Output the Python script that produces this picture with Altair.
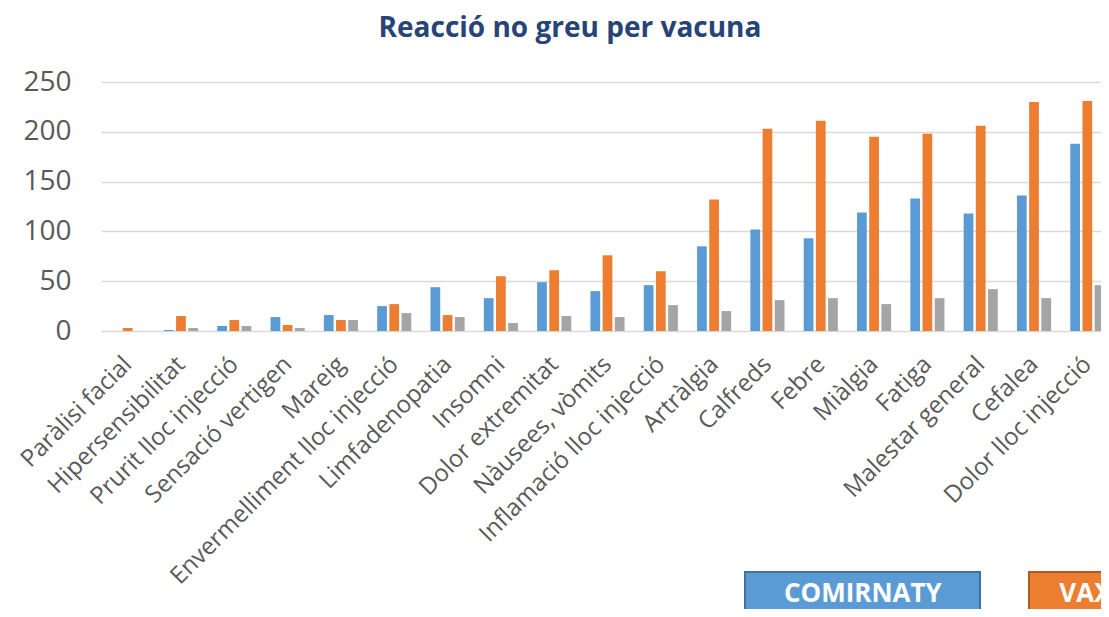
import altair as alt
import pandas as pd

categories = [
    "Paràlisi facial", "Hipersensibilitat", "Prurit lloc injecció", "Sensació vertigen",
    "Mareig", "Envermelliment lloc injecció", "Limfadenopatia", "Insomni",
    "Dolor extremitat", "Nàusees, vòmits", "Inflamació lloc injecció", "Artràlgia",
    "Calfreds", "Febre", "Miàlgia", "Fatiga", "Malestar general", "Cefalea",
    "Dolor lloc injecció",
]
series_names = ["COMIRNATY", "VAXZEVRIA", "SPIKEVAX"]
comirnaty = [0, 1, 5, 14, 16, 25, 44, 33, 49, 40, 46, 85, 102, 93, 119, 133, 118, 136, 188]
vaxzevria = [3, 15, 11, 6, 11, 27, 16, 55, 61, 76, 60, 132, 203, 211, 195, 198, 206, 230, 231]
spikevax = [0, 3, 5, 3, 11, 18, 14, 8, 15, 14, 26, 20, 31, 33, 27, 33, 42, 33, 46]

fill_colors = ["#5B9BD5", "#ED7D31", "#A5A5A5"]
edge_colors = ["#41719C", "#AE5A21", "#787878"]

rows = []
for name, vals in zip(series_names, [comirnaty, vaxzevria, spikevax]):
    for c, v in zip(categories, vals):
        rows.append({"category": c, "series": name, "value": v})
df = pd.DataFrame(rows)
legend_df = pd.DataFrame({"series": series_names})

FONT = "Open Sans"
color_scale = alt.Scale(domain=series_names, range=fill_colors)

bars = alt.Chart(df).mark_bar(clip=True).encode(
    x=alt.X(
        "category:N", sort=categories,
        scale=alt.Scale(range=[0, 1013], paddingInner=0.36, paddingOuter=0.18),
        axis=alt.Axis(
            title=None, labelAngle=-45, labelAlign="right", labelBaseline="top",
            labelFontSize=24, labelFont=FONT, labelColor="#595959",
            labelPadding=21, labelOffset=-8, labelLimit=0, labelOverlap=False,
            domain=False, ticks=False, grid=False,
        ),
    ),
    xOffset=alt.XOffset("series:N", sort=series_names,
                        scale=alt.Scale(paddingInner=0.2, paddingOuter=0)),
    y=alt.Y(
        "value:Q", scale=alt.Scale(domain=[0, 250]),
        axis=alt.Axis(
            title=None, values=[0, 50, 100, 150, 200, 250],
            labelFontSize=28, labelFont=FONT, labelColor="#595959",
            labelPadding=30, domain=False, ticks=False,
            grid=True, gridColor="#D9D9D9", gridWidth=1.5,
        ),
    ),
    color=alt.Color("series:N", scale=color_scale, legend=None),
)

leg_x = alt.X("series:N", sort=series_names, axis=None,
              scale=alt.Scale(range=[644, 1447], paddingInner=0.1725, paddingOuter=0))

legend_boxes = alt.Chart(legend_df).mark_rect(strokeWidth=2).encode(
    x=leg_x,
    y=alt.value(490),
    y2=alt.value(534),
    color=alt.Color("series:N", scale=color_scale, legend=None),
    stroke=alt.Stroke("series:N", scale=alt.Scale(domain=series_names, range=edge_colors), legend=None),
)
legend_text = alt.Chart(legend_df).mark_text(
    font=FONT, fontSize=26, fontWeight="bold", color="white", baseline="middle",
    align="center", dx=-16,
).encode(
    x=leg_x,
    y=alt.value(512),
    text="series:N",
)

chart = alt.layer(bars, legend_boxes, legend_text).resolve_scale(
    x="independent"
).properties(
    width=1000,
    height=249,
    autosize=alt.AutoSizeParams(type="none"),
    padding={"left": 93, "top": 74, "right": 0, "bottom": 278},
    title=alt.TitleParams(
        "Reacció no greu per vacuna", font=FONT, fontSize=28, fontWeight="bold",
        color="#264478", anchor="middle", dx=-31, offset=25,
    ),
).configure_view(stroke=None)

chart.save("out.html", embed_options={"renderer": "svg", "actions": False})
